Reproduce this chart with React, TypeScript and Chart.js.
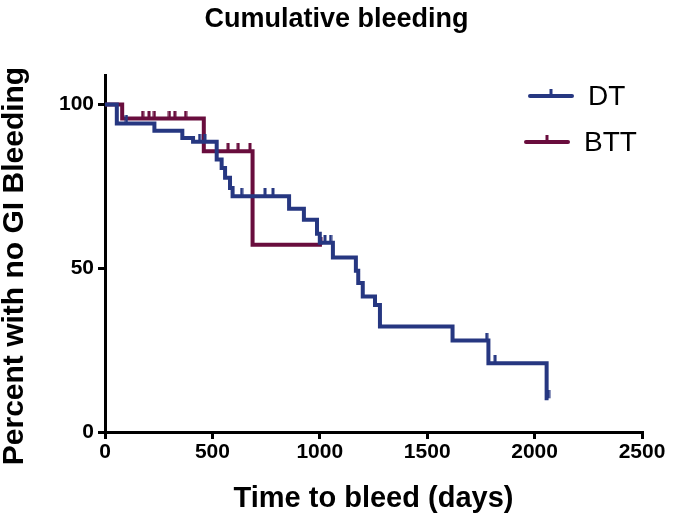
import React, { useEffect, useRef } from "react";
import { Chart, registerables } from "chart.js";

Chart.register(...registerables);

const TITLE = "Cumulative bleeding";
const X_TITLE = "Time to bleed (days)";
const Y_TITLE = "Percent with no GI Bleeding";
const X_TICKS = [0, 500, 1000, 1500, 2000, 2500];
const Y_TICKS = [0, 50, 100];
const SERIES_NAMES = ["DT", "BTT"];
const COLORS = ["#263781", "#690d3d"];

// DT: Kaplan-Meier step points (time in days, % without GI bleeding)
const DT_TIMES = [0, 55, 230, 360, 410, 520, 543, 559, 582, 594, 857, 926, 987, 1000, 1061, 1168, 1179, 1200, 1257, 1280, 1618, 1785, 2056, 2065];
const DT_SURV = [100, 94.2, 92.0, 89.8, 88.6, 83.2, 80.6, 77.6, 74.5, 72.0, 68.2, 64.8, 60.5, 57.8, 53.3, 49.2, 45.5, 41.4, 38.8, 32.2, 27.9, 21.0, 10.3, 10.3];
const DT_CENSORED = [100, 440, 465, 636, 745, 782, 1024, 1050, 1777, 1816, 2065];

// BTT
const BTT_TIMES = [0, 80, 460, 687, 1010];
const BTT_SURV = [100, 95.7, 85.7, 57.2, 57.2];
const BTT_CENSORED = [175, 205, 230, 300, 325, 375, 573, 620, 675, 1005];

const FONT = "'Liberation Sans', Arial, Helvetica, sans-serif";

function survAt(times: number[], surv: number[], t: number): number {
  let s = surv[0];
  for (let i = 0; i < times.length; i++) if (times[i] <= t) s = surv[i];
  return s;
}

function makeTick(color: string): HTMLCanvasElement {
  const c = document.createElement("canvas");
  c.width = 4;
  c.height = 16;
  const g = c.getContext("2d")!;
  g.fillStyle = color;
  g.fillRect(0.5, 0, 3, 8);
  return c;
}

const textPlugin = {
  id: "kmText",
  afterDraw(chart: any) {
    const ctx = chart.ctx;
    ctx.save();
    // title
    ctx.fillStyle = "#000";
    ctx.font = `bold 27px ${FONT}`;
    ctx.textAlign = "center";
    ctx.textBaseline = "middle";
    ctx.fillText(TITLE, chart.width / 2, 20);
    // y axis title
    ctx.save();
    ctx.translate(15, 266);
    ctx.rotate(-Math.PI / 2);
    ctx.font = `bold 30px ${FONT}`;
    ctx.fillText(Y_TITLE, 0, 0);
    ctx.restore();
    // legend
    const items = [
      { name: SERIES_NAMES[0], color: COLORS[0], x0: 530, y: 96 },
      { name: SERIES_NAMES[1], color: COLORS[1], x0: 526, y: 142 },
    ];
    items.forEach((it) => {
      ctx.strokeStyle = it.color;
      ctx.lineWidth = 4;
      ctx.lineCap = "round";
      ctx.beginPath();
      ctx.moveTo(it.x0, it.y);
      ctx.lineTo(it.x0 + 42, it.y);
      ctx.stroke();
      ctx.lineCap = "butt";
      ctx.lineWidth = 3;
      ctx.beginPath();
      ctx.moveTo(it.x0 + 21, it.y);
      ctx.lineTo(it.x0 + 21, it.y - 7);
      ctx.stroke();
      ctx.fillStyle = "#000";
      ctx.font = `28px ${FONT}`;
      ctx.textBaseline = "middle";
      ctx.textAlign = "left";
      ctx.fillText(it.name, it.x0 + 58, it.y + 1);
    });
    ctx.restore();
  },
};

export default function App() {
  const ref = useRef<HTMLCanvasElement | null>(null);

  useEffect(() => {
    if (!ref.current) return;
    const dtLine = DT_TIMES.map((t, i) => ({ x: t, y: DT_SURV[i] }));
    const bttLine = BTT_TIMES.map((t, i) => ({ x: t, y: BTT_SURV[i] }));
    const dtCens = DT_CENSORED.map((t) => ({ x: t, y: survAt(DT_TIMES, DT_SURV, t) }));
    const bttCens = BTT_CENSORED.map((t) => ({ x: t, y: survAt(BTT_TIMES, BTT_SURV, t) }));

    const chart = new Chart(ref.current, {
      type: "line",
      data: {
        datasets: [
          {
            label: SERIES_NAMES[0] + " censored",
            data: dtCens,
            showLine: false,
            pointStyle: makeTick(COLORS[0]) as any,
            pointRadius: 5,
          },
          {
            label: SERIES_NAMES[0],
            data: dtLine,
            stepped: true,
            borderColor: COLORS[0],
            borderWidth: 4,
            pointRadius: 0,
            fill: false,
          },
          {
            label: SERIES_NAMES[1] + " censored",
            data: bttCens,
            showLine: false,
            pointStyle: makeTick(COLORS[1]) as any,
            pointRadius: 5,
          },
          {
            label: SERIES_NAMES[1],
            data: bttLine,
            stepped: true,
            borderColor: COLORS[1],
            borderWidth: 4,
            pointRadius: 0,
            fill: false,
          },
        ],
      },
      options: {
        animation: false,
        responsive: false,
        events: [],
        layout: { padding: { left: 0, right: 0, top: 75, bottom: 0 } },
        plugins: {
          legend: { display: false },
          tooltip: { enabled: false },
          title: { display: false },
        },
        scales: {
          x: {
            type: "linear",
            min: 0,
            max: 2500,
            afterBuildTicks: (s: any) => {
              s.ticks = X_TICKS.map((v) => ({ value: v }));
            },
            afterFit: (s: any) => {
              s.height = 95;
              s.paddingRight = 31;
            },
            border: { display: true, color: "#000", width: 3 },
            grid: { display: true, drawOnChartArea: false, drawTicks: true, tickLength: 7, color: "#000", lineWidth: 3 },
            ticks: {
              color: "#000",
              font: { family: FONT, size: 21, weight: "bold" },
              padding: 1,
              maxRotation: 0,
              callback: (v: any) => String(v),
            },
            title: {
              display: true,
              text: X_TITLE,
              color: "#000",
              font: { family: FONT, size: 29, weight: "bold" },
              padding: { top: 0, bottom: 11 },
            },
          },
          y: {
            type: "linear",
            min: 0,
            max: 109,
            afterBuildTicks: (s: any) => {
              s.ticks = Y_TICKS.map((v) => ({ value: v }));
            },
            afterFit: (s: any) => {
              s.width = 105;
              s.paddingTop = 0;
            },
            border: { display: true, color: "#000", width: 3 },
            grid: { display: true, drawOnChartArea: false, drawTicks: true, tickLength: 7, color: "#000", lineWidth: 3 },
            ticks: {
              color: "#000",
              font: { family: FONT, size: 21, weight: "bold" },
              padding: 4,
              callback: (v: any) => String(v),
            },
            title: { display: false },
          },
        },
      },
      plugins: [textPlugin],
    } as any);
    return () => chart.destroy();
  }, []);

  return (
    <div style={{ position: "fixed", left: 0, top: 0, width: 673, height: 527, background: "#fff" }}>
      <canvas ref={ref} width={673} height={527} style={{ display: "block" }} />
    </div>
  );
}
